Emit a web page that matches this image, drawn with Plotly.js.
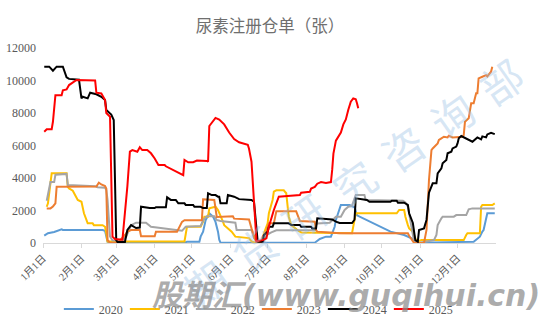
<!DOCTYPE html>
<html>
<head>
<meta charset="utf-8">
<script src="https://cdn.plot.ly/plotly-3.0.1.min.js"></script>
<style>
html,body{margin:0;padding:0;background:#ffffff;}
#chart{width:550px;height:328px;}
</style>
</head>
<body>
<div id="chart"></div>
<script>
// ---------- data (month-day, registered warrants) ----------
const BASE_YEAR = "2021";
const seriesNames = ["2020", "2021", "2022", "2023", "2024", "2025"];

const d2020 = ["01-02","01-05","01-10","01-13","01-16","01-17","02-18","02-20","02-21","02-22",
               "02-24","04-25","04-27","05-07","05-08","05-10","05-12","05-15","05-18","05-20",
               "05-22","05-23","05-24","08-08","08-12","08-17","08-21","08-24","08-25","08-28",
               "08-29","09-05","09-09","09-11","09-18","09-25","09-30","10-08","10-19","10-22",
               "10-25","10-27","10-31","12-14","12-19","12-21","12-22","12-25","12-31"];
const v2020 = [450,600,680,750,840,800,800,750,390,80,
               20,20,80,80,390,700,1400,1830,1620,1300,
               700,200,20,20,250,390,390,1000,1420,2030,
               2340,2340,2200,1700,1450,1200,1000,700,490,390,
               290,80,20,80,390,700,800,1830,1830];

const d2021 = ["01-04","01-05","01-08","01-20","01-21","01-22","01-25","01-28","01-29","02-01",
               "02-02","02-03","02-05","02-06","02-10","02-11","02-18","02-20","02-21","02-22",
               "04-25","04-26","04-27","05-08","05-10","05-11","05-14","05-15","05-20","05-22",
               "05-24","05-26","05-27","05-30","06-02","06-05","06-16","06-18","06-21","06-26",
               "06-28","07-01","07-02","07-05","07-06","07-08","07-14","07-16","07-17","07-18",
               "07-20","07-23","07-25","07-28","09-07","09-09","09-10","10-13","10-15","10-19",
               "10-20","10-22","10-23","10-26","10-29","11-02","12-06","12-08","12-09","12-19",
               "12-20","12-21","12-29","12-31"];
const v2021 = [2230,2440,4290,4290,3460,3360,3220,2850,2650,2540,
               2230,1830,1420,1210,1210,1100,1100,1000,600,100,
               100,700,1000,1000,1310,1620,1620,2130,2230,2030,
               1720,1310,1100,900,700,390,300,100,20,20,
               600,1210,1830,2650,3160,3240,3240,3060,2440,1620,
               1100,900,800,650,600,1420,1830,1830,2030,2030,
               1620,1100,900,700,80,180,180,490,600,600,
               2230,2340,2340,2440];

const d2022 = ["01-04","01-05","01-07","01-10","01-11","01-20","01-21","02-12","02-14","02-20",
               "02-21","02-22","02-24","02-26","03-06","03-09","03-13","03-17","03-25","03-29",
               "04-03","04-11","04-18","04-23","04-26","05-08","05-10","05-13","05-19","05-21",
               "05-24","06-05","06-06","06-18","06-20","06-23","06-28","06-30","07-04","07-08",
               "08-08","08-09","08-10","08-20","08-25","08-29","09-01","09-04","09-07","09-09",
               "09-10","09-17","09-18","10-18","10-20","10-22","10-24","10-27","10-31","11-07",
               "11-12","11-14","11-15","11-18","11-19","11-28","11-30","12-08","12-09","12-10",
               "12-13","12-31"];
const v2022 = [2600,3060,3750,3750,4200,4250,3570,3500,3430,3400,
               3260,2650,400,150,150,390,1100,1250,1250,1000,
               950,900,800,750,1000,1050,1400,1650,1650,1420,
               1350,1250,800,800,300,50,100,490,650,780,
               780,1100,1200,1250,1620,1620,2030,2230,2300,2750,
               2950,2950,2650,2600,2500,2230,1420,100,0,100,
               180,500,1100,1520,1620,1620,1720,1720,1930,2070,
               2130,2130];

const d2023 = ["01-04","01-07","01-09","01-11","01-12","02-13","02-15","02-17","02-20","02-21",
               "02-22","02-24","03-01","03-03","03-08","03-10","03-13","03-20","03-21","04-01",
               "04-02","04-19","04-23","04-25","05-09","05-10","05-19","05-21","06-03","06-04",
               "06-16","06-18","06-22","06-26","06-27","06-30","07-02","07-06","07-08","07-24",
               "07-27","08-08","08-09","08-10","08-20","08-28","10-22","10-23","10-27","11-04",
               "11-06","11-07","11-08","11-10","11-11","11-15","11-16","11-18","11-20","11-23",
               "11-24","11-27","12-05","12-06","12-07","12-10","12-12","12-14","12-16","12-17",
               "12-18","12-21","12-24","12-25","12-27","12-28","12-29"];
const v2023 = [2130,2130,2250,2440,3460,3480,3710,3600,3500,3360,
               180,20,20,80,490,700,800,800,420,420,
               700,700,1300,1400,1400,2690,2650,1600,1650,1500,
               1450,900,20,20,390,700,1210,1210,1950,1950,
               1350,1310,800,700,650,600,600,450,0,0,
               800,2460,3880,5720,5820,6130,6340,6440,6540,6500,
               6600,6500,6540,6640,7460,7670,8600,8600,9210,9210,
               10130,10230,10330,10250,10440,10540,10850];

const d2024 = ["01-02","01-06","01-09","01-12","01-17","01-18","01-20","01-22","01-30","02-01",
               "02-02","02-06","02-08","02-13","02-17","02-20","02-21","02-25","02-27","03-01",
               "03-02","03-08","03-10","03-13","03-17","03-20","03-21","03-28","04-01","04-02",
               "04-10","04-11","04-14","04-18","04-20","04-25","04-26","05-02","05-03","05-08",
               "05-10","05-13","05-14","05-17","05-20","05-22","05-23","05-24","05-29","05-30",
               "06-04","06-08","06-18","06-20","06-23","06-27","06-28","07-01","07-02","07-05",
               "07-06","07-18","07-20","07-27","07-28","08-05","08-06","08-09","08-10","08-22",
               "08-25","08-28","09-07","09-09","09-10","09-19","09-21","10-08","10-09","10-13",
               "10-14","10-19","10-22","10-23","10-26","10-28","10-30","10-31","11-04","11-06",
               "11-07","11-08","11-11","11-14","11-15","11-18","11-19","11-22","11-23","11-26",
               "11-27","11-30","12-01","12-02","12-04","12-06","12-10","12-13","12-17","12-20",
               "12-21","12-24","12-25","12-28","12-31"];
const v2024 = [10850,10850,10600,10850,10850,10600,10200,10100,10050,8900,
               9000,8900,9250,9150,9000,8800,8180,7900,7570,180,
               60,60,800,1100,920,950,2230,2150,2150,2200,
               2200,2810,2650,2650,2440,2440,2340,2340,2230,2230,
               2150,2150,3060,2950,2950,2850,2850,2440,2440,2950,
               2850,2700,2650,2540,80,80,490,700,1000,1000,
               1210,1210,1110,1110,1000,1000,900,900,1520,1450,
               1310,1230,1230,1430,2750,2650,2540,2540,2600,2600,
               2480,2480,2340,1830,1230,180,80,800,900,1420,
               2230,3100,3670,3670,4290,4590,4900,5110,5520,5620,
               5820,5930,6130,6440,6580,6500,6340,6230,6500,6380,
               6560,6500,6680,6780,6700];

const d2025 = ["01-02","01-04","01-08","01-09","01-11","01-16","01-17","01-20","01-22","01-26",
               "01-28","02-12","02-13","02-17","02-20","02-21","02-24","02-26","02-28","03-06",
               "03-08","03-10","03-12","03-14","03-18","03-20","03-22","03-26","03-29","04-01",
               "04-04","04-09","04-10","04-16","04-21","04-24","04-25","04-28","05-02","05-05",
               "05-13","05-14","05-15","05-18","05-20","05-23","05-27","05-31","06-04","06-08",
               "06-15","06-16","06-18","06-22","06-27","06-30","07-02","07-06","07-08","07-10",
               "07-17","07-27","07-28","08-04","08-05","08-08","08-10","08-13","08-17","08-21",
               "08-22","08-23","08-25","08-29","08-31","09-02","09-04","09-06","09-08","09-10",
               "09-11","09-12"];
const v2025 = [6850,7000,7000,7460,9100,9100,9400,9450,9720,9930,
               10030,10000,9250,9200,8800,8000,7770,390,250,200,
               1830,3500,5620,5720,5620,5890,5720,5720,5520,5200,
               4800,4800,4720,4490,4290,4180,5110,4970,4970,5070,
               5050,5000,7200,7500,7700,7600,7300,6800,6400,6200,
               6050,5800,5000,100,180,290,1000,2030,2440,2850,
               2900,2950,3100,3150,3350,3450,3650,3750,3700,3750,
               4500,5500,6300,6800,7300,7600,8200,8700,8900,8850,
               8600,8300];

const monthTicks = ["01-01","02-01","03-01","04-01","05-01","06-01","07-01","08-01","09-01","10-01","11-01","12-01"];
const monthLabels = ["1月1日","2月1日","3月1日","4月1日","5月1日","6月1日","7月1日","8月1日","9月1日","10月1日","11月1日","12月1日"];
const yTicks = [0, 2000, 4000, 6000, 8000, 10000, 12000];

// ---------- drawing ----------
const allDates = [d2020, d2021, d2022, d2023, d2024, d2025];
const allValues = [v2020, v2021, v2022, v2023, v2024, v2025];
const colors = ["#5B9BD5", "#FFC000", "#A5A5A5", "#ED7D31", "#000000", "#FF0000"];

allDates.forEach((d, i) => {
  if (d.length !== allValues[i].length) {
    throw new Error("length mismatch " + seriesNames[i] + ": " + d.length + " vs " + allValues[i].length);
  }
});

const toDate = md => BASE_YEAR + "-" + md;

const traces = seriesNames.map((name, i) => ({
  type: "scatter",
  mode: "lines",
  name: name,
  x: allDates[i].map(toDate),
  y: allValues[i],
  line: {color: colors[i], width: 2},
  hoverinfo: "skip"
}));

const serif = "'Liberation Serif', 'Noto Sans CJK SC', serif";
const grey = "#595959";

// watermark text (drawn as annotations)
const wmChars = ["期", "货", "研", "究", "咨", "询", "部"];
const wmX = [205, 254, 303, 353, 402, 451, 500];
const wmY = [282, 248, 215, 181, 147, 114, 80];
const plotL = 43, plotW = 453, plotB = 243, plotH = 195;
const annotations = wmChars.map((c, i) => ({
  text: c,
  xref: "paper", yref: "paper",
  x: (wmX[i] - plotL) / plotW,
  y: (plotB - wmY[i]) / plotH,
  xanchor: "center", yanchor: "middle",
  showarrow: false,
  textangle: -35,
  font: {family: "'Noto Sans CJK SC'", size: 42, color: "rgba(150,190,228,0.38)"}
}));
annotations.push({
  text: "股期汇(www.guqihui.cn)",
  xref: "paper", yref: "paper",
  x: (150 - plotL) / plotW,
  y: (plotB - 295) / plotH,
  xanchor: "left", yanchor: "middle",
  showarrow: false,
  font: {family: "'DejaVu Sans', 'Noto Sans CJK SC'", size: 30, weight: 700, style: "italic", color: "rgba(140,140,140,0.72)"}
});

const layout = {
  width: 550,
  height: 328,
  margin: {l: 43, r: 54, t: 48, b: 85},
  paper_bgcolor: "#ffffff",
  plot_bgcolor: "#ffffff",
  title: {
    text: "尿素注册仓单（张）",
    xref: "container", yref: "container",
    x: 270 / 550, xanchor: "center",
    y: 1 - 26 / 328, yanchor: "middle",
    font: {family: "'Noto Sans CJK SC'", size: 16.5, color: "#6f6f6f"}
  },
  xaxis: {
    type: "date",
    range: [BASE_YEAR + "-01-01", "2022-01-01"],
    tickmode: "array",
    tickvals: monthTicks.map(toDate),
    ticktext: monthLabels,
    tickangle: -45,
    showgrid: false,
    zeroline: false,
    showline: true,
    linecolor: "#D9D9D9",
    linewidth: 1,
    ticks: "outside",
    ticklen: 4,
    tickcolor: "#D9D9D9",
    tickfont: {family: serif, size: 10.5, color: grey}
  },
  yaxis: {
    range: [0, 12000],
    tickmode: "array",
    tickvals: yTicks,
    ticktext: yTicks.map(String),
    showgrid: false,
    zeroline: false,
    showline: false,
    ticks: "",
    ticklabelstandoff: 6,
    tickfont: {family: serif, size: 12, color: grey}
  },
  showlegend: true,
  legend: {
    orientation: "h",
    xref: "container", yref: "container",
    x: 0.467, xanchor: "center",
    y: 1 - 309 / 328, yanchor: "middle",
    entrywidth: 21,
    font: {family: serif, size: 12, color: grey},
    bgcolor: "rgba(0,0,0,0)"
  },
  annotations: annotations
};

Plotly.newPlot("chart", traces, layout, {displayModeBar: false, staticPlot: true});
</script>
</body>
</html>
